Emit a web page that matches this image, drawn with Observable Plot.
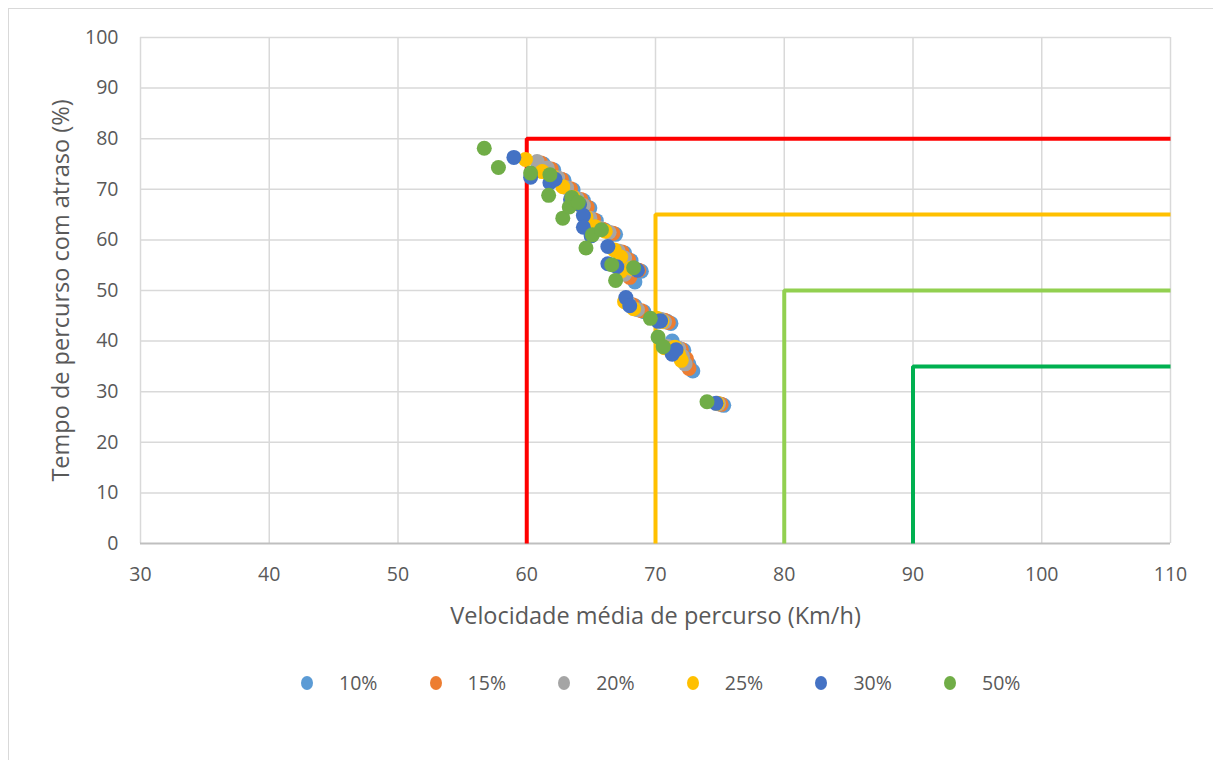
<!DOCTYPE html>
<html><head><meta charset="utf-8">
<script src="https://cdn.jsdelivr.net/npm/d3@7"></script>
<script src="https://cdn.jsdelivr.net/npm/@observablehq/plot@0.6"></script>
<style>
body{margin:0;background:#fff;font-family:"Open Sans",sans-serif;}
#wrap{position:relative;width:1213px;height:760px;overflow:hidden;}
#border{position:absolute;left:8px;top:8px;width:1230px;height:770px;border:1px solid #d9d9d9;box-sizing:border-box;}
#chart{position:absolute;left:0;top:0;}
#legend{position:absolute;top:669px;left:0;width:1213px;height:28px;}
.li{position:absolute;top:0;display:flex;align-items:center;font-size:19.5px;color:#595959;}
.sw{width:12px;height:14px;border-radius:50%;margin-right:26px;}
</style></head>
<body><div id="wrap"><div id="border"></div><div id="chart"></div><div id="legend"></div></div>
<script>
const seriesNames = ["10%","15%","20%","25%","30%","50%"];
const seriesColors = ["#5B9BD5","#ED7D31","#A5A5A5","#FFC000","#4472C4","#70AD47"];
const x10 = [61.3,62.1,62.9,63.6,64.4,64.9,65.4,66.1,66.9,67.6,68.1,68.9,68.4,68.4,69.1,70.9,71.2,71.3,72.2,72.6,72.9,75.3];
const y10 = [75.0,73.8,71.8,69.9,67.8,66.3,63.8,61.9,61.1,57.4,55.9,53.8,51.7,47.0,45.8,43.9,43.5,40.0,38.2,35.4,34.1,27.3];
const x15 = [61.1,61.9,62.7,63.4,64.2,64.7,65.2,65.9,66.7,67.4,67.9,68.7,68.0,68.2,68.9,70.7,71.0,71.1,72.0,72.4,72.6,75.1];
const y15 = [75.2,74.0,72.0,70.1,68.0,66.5,64.0,62.1,61.3,57.6,56.1,54.0,52.6,47.2,46.0,44.1,43.7,38.5,38.4,36.5,34.6,27.5];
const x20 = [60.8,61.6,62.4,63.1,63.9,64.4,64.9,65.6,66.4,67.1,67.6,68.4,67.6,67.9,68.6,70.4,70.7,70.9,71.8,72.1,72.3,74.9];
const y20 = [75.5,74.2,72.3,70.3,68.2,66.8,64.3,62.4,61.5,57.8,56.4,54.2,53.2,47.5,46.2,44.3,43.8,39.0,38.6,37.0,35.5,27.6];
const x25 = [59.9,61.2,62.0,62.8,63.6,64.1,64.6,65.3,66.1,66.8,67.3,68.1,67.3,67.6,68.3,70.1,70.5,70.7,71.5,71.8,72.0,74.8];
const y25 = [75.9,73.5,72.5,70.5,68.4,67.0,64.5,62.6,61.7,58.0,56.6,54.4,53.8,47.8,46.4,44.5,43.9,38.7,38.8,37.4,36.2,27.7];
const x30 = [59.0,60.3,61.8,62.2,63.4,64.1,64.4,64.4,65.0,66.3,66.3,67.0,68.6,67.7,68.0,70.2,70.4,71.3,71.6,74.7];
const y30 = [76.3,72.4,71.3,72.0,68.0,67.0,64.8,62.5,60.8,58.7,55.3,54.7,54.0,48.6,47.0,43.9,44.0,37.4,38.3,27.7];
const x50 = [56.7,57.8,60.3,61.8,61.7,62.8,63.3,63.5,64.0,64.6,65.1,65.8,66.6,66.9,68.3,69.6,70.2,70.6,74.0];
const y50 = [78.1,74.3,73.2,72.9,68.8,64.3,66.5,68.4,67.4,58.4,61.0,62.0,55.1,52.0,54.5,44.5,40.8,38.9,28.0];
const limX = [60,70,80,90];
const limY = [80,65,50,35];
const limColors = ["#FF0000","#FFC000","#92D050","#00B050"];
const xTicks = [30,40,50,60,70,80,90,100,110];
const yTicks = [0,10,20,30,40,50,60,70,80,90,100];

const xs=[x10,x15,x20,x25,x30,x50], ys=[y10,y15,y20,y25,y30,y50];
const pts=[];
xs.forEach((arr,i)=>arr.forEach((v,j)=>pts.push({x:v,y:ys[i][j],s:seriesNames[i],c:seriesColors[i]})));
const lims=[];
limX.forEach((lx,i)=>{ [[lx,0],[lx,limY[i]],[110,limY[i]]].forEach(p=>lims.push({x:p[0],y:p[1],k:i,c:limColors[i]})); });

const plot = Plot.plot({
  width:1213, height:640,
  marginLeft:140, marginRight:43, marginTop:37, marginBottom:97,
  style:{fontFamily:"'Open Sans', sans-serif", fontSize:"19px", color:"#595959", background:"transparent"},
  x:{domain:[30,110]}, y:{domain:[0,100]},
  marks:[
    Plot.gridX(xTicks,{stroke:"#d9d9d9",strokeOpacity:1,strokeWidth:1.5}),
    Plot.gridY(yTicks.slice(1),{stroke:"#d9d9d9",strokeOpacity:1,strokeWidth:1.5}),
    Plot.ruleY([0],{stroke:"#bfbfbf",strokeWidth:2}),
    Plot.axisX(xTicks,{tickSize:0,tickPadding:24,fontSize:19.5,fill:"#595959",label:"Velocidade média de percurso (Km/h)",labelAnchor:"center",labelOffset:80,labelArrow:"none"}),
    Plot.axisY(yTicks,{tickSize:0,tickPadding:22,fontSize:19.5,fill:"#595959",label:"Tempo de percurso com atraso (%)",labelAnchor:"center",labelOffset:88,labelArrow:"none"}),
    Plot.line(lims,{x:"x",y:"y",z:"k",stroke:"c",strokeWidth:4,strokeLinejoin:"miter",strokeLinecap:"butt"}),
    Plot.dot(pts,{x:"x",y:"y",r:7.5,fill:"c",stroke:null})
  ]
});
document.getElementById("chart").appendChild(plot);
plot.querySelectorAll('[aria-label="x-axis label"] text, [aria-label="y-axis label"] text').forEach(t=>t.style.fontSize="23.5px");

const lg=document.getElementById("legend");
const lx0=301, dx=128.6;
seriesNames.forEach((n,i)=>{
  const d=document.createElement("div"); d.className="li"; d.style.left=(lx0+i*dx)+"px";
  d.innerHTML=`<span class="sw" style="background:${seriesColors[i]}"></span><span>${n}</span>`;
  lg.appendChild(d);
});
</script></body></html>
